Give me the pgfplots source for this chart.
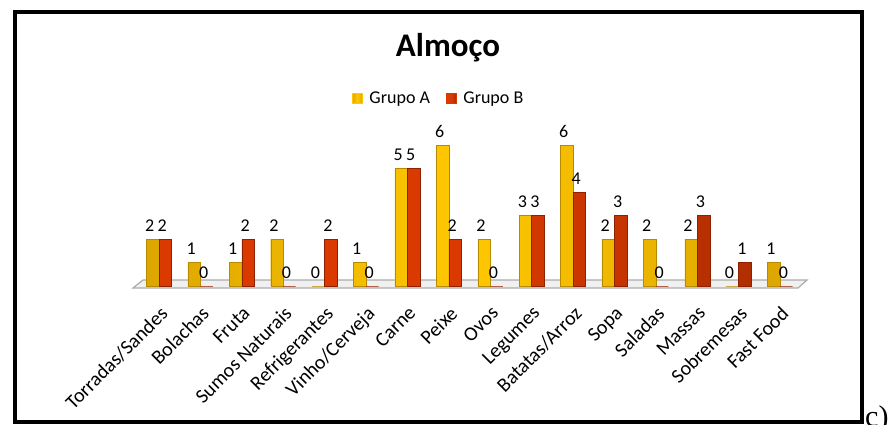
\documentclass[border=0pt]{standalone}
\usepackage{pgfplots}
\pgfplotsset{compat=1.18}
\usepackage{fontspec}
\setmainfont{Carlito}
\newfontfamily\timesfont{Liberation Serif}
\definecolor{yelA}{HTML}{FFC800}
\definecolor{yelAdark}{HTML}{DDA600}
\definecolor{yelAedge}{HTML}{B88A00}
\definecolor{redB}{HTML}{DA3A00}
\definecolor{redBdark}{HTML}{AC2C00}
\definecolor{redBedge}{HTML}{8E2200}
\begin{document}
\begin{tikzpicture}[x=1pt,y=1pt]
\useasboundingbox (0,0) rectangle (895,424);
\draw[line width=4pt, black] (14.5,2) rectangle (862,411.5);
\node[font=\fontsize{33}{38}\selectfont\bfseries] at (448,376) {Almoço};
\filldraw[fill=gray!12, draw=gray!65, line width=1.2pt] (133,136) -- (798,136) -- (807,144) -- (143,144) -- cycle;
\begin{axis}[
  at={(134.2pt,138pt)}, anchor=south west,
  scale only axis, width=670.7pt, height=148pt,
  xmin=-0.6, xmax=15.6, ymin=0, ymax=6.3,
  axis line style={draw=none},
  ytick=\empty,
  xtick={0,...,15},
  xticklabels={Torradas/Sandes,Bolachas,Fruta,Sumos Naturais,Refrigerantes,Vinho/Cerveja,Carne,Peixe,Ovos,Legumes,Batatas/Arroz,Sopa,Saladas,Massas,Sobremesas,Fast Food},
  major tick length=0pt,
  xticklabel style={font=\fontsize{20}{22}\selectfont, rotate=45, anchor=north east, inner sep=0pt},
  xticklabel shift=19pt,
  ybar, bar width=12.5pt,
  clip=false,
  nodes near coords,
  every node near coord/.append style={font=\fontsize{18}{20}\selectfont, text=black, anchor=south, yshift=4pt, xshift=-3pt},
  /pgf/number format/assume math mode=true,
  legend columns=2,
  legend style={at={(0.454,1.27)}, anchor=center, draw=none, fill=none, font=\fontsize{18}{20}\selectfont, /tikz/every even column/.append style={column sep=14pt}},
]
\addplot[bar shift=-6.25pt, draw=yelAedge, left color=yelAdark, right color=yelAdark, middle color=yelA,
  legend image code/.code={\fill[yelA] (0pt,-5pt) rectangle (10pt,5pt); \path (15pt,0pt);}]
  coordinates {(0,2) (1,1) (2,1) (3,2) (4,0) (5,1) (6,5) (7,6) (8,2) (9,3) (10,6) (11,2) (12,2) (13,2) (14,0) (15,1)};
\addplot[bar shift=6.25pt, draw=redBedge, left color=redB, right color=redBdark, middle color=redB,
  legend image code/.code={\fill[redB] (0pt,-5pt) rectangle (10pt,5pt); \path (15pt,0pt);}]
  coordinates {(0,2) (1,0) (2,2) (3,0) (4,2) (5,0) (6,5) (7,2) (8,0) (9,3) (10,4) (11,3) (12,0) (13,3) (14,1) (15,0)};
\legend{Grupo A, Grupo B}
\end{axis}
\node[font=\timesfont\fontsize{30}{34}\selectfont, anchor=base west, inner sep=0pt] at (865,-2) {c)};
\end{tikzpicture}
\end{document}
